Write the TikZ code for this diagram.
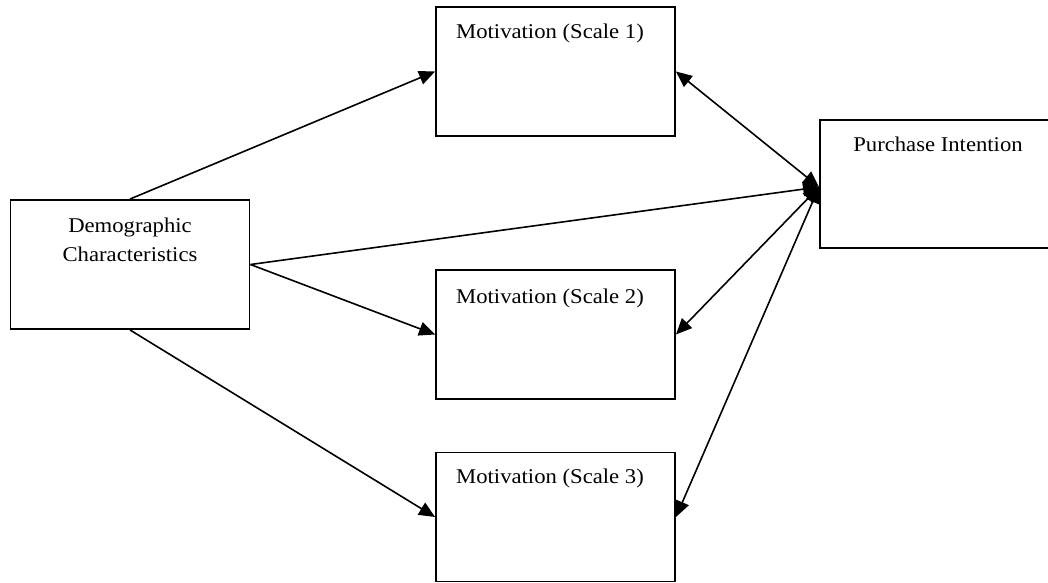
\documentclass[tikz,border=0pt]{standalone}
\usepackage{fontspec}
\setmainfont[FakeStretch=1.08]{Liberation Serif}
\usetikzlibrary{arrows.meta}
\begin{document}
\begin{tikzpicture}[x=1pt,y=-1pt,
  box/.style={draw,line width=1.9pt,minimum width=239pt,minimum height=129pt,inner sep=0pt},
  lbl/.style={anchor=base,inner sep=0pt,font=\fontsize{21}{29}\selectfont},
  conn/.style={line width=1.6pt,-{Triangle[length=16pt,width=14pt]}},
  dconn/.style={line width=1.6pt,{Triangle[length=16pt,width=14pt]}-{Triangle[length=16pt,width=14pt]}}]
\path[use as bounding box,clip] (0,0) rectangle (1048,582);
\fill[white] (0,0) rectangle (1048,582);
\node[box] (demo) at (130,264.5) {};
\node[box] (s1) at (555.5,71.5) {};
\node[box] (s2) at (555.5,334.5) {};
\node[box] (s3) at (555.5,517) {};
\node[box,minimum width=240pt,minimum height=128pt] (pi) at (940,184) {};
\node[lbl] (demot1) at (130,232) {Demographic};
\node[lbl] (demot2) at (130,261) {Characteristics};
\node[lbl] (s1t) at (550,38) {Motivation (Scale 1)};
\node[lbl] (s2t) at (550,303) {Motivation (Scale 2)};
\node[lbl] (s3t) at (550,483) {Motivation (Scale 3)};
\node[lbl] (pit) at (938,151) {Purchase Intention};
\coordinate (pin) at (819,187);
\draw[conn] (demo.north) -- (s1.west);
\draw[conn] (demo.east) -- (pin);
\draw[conn] (demo.east) -- (s2.west);
\draw[conn] (demo.south) -- (s3.west);
\draw[dconn] (s1.east) -- (pin);
\draw[dconn] (s2.east) -- (pin);
\draw[dconn] (s3.east) -- (pin);
\end{tikzpicture}
\end{document}
